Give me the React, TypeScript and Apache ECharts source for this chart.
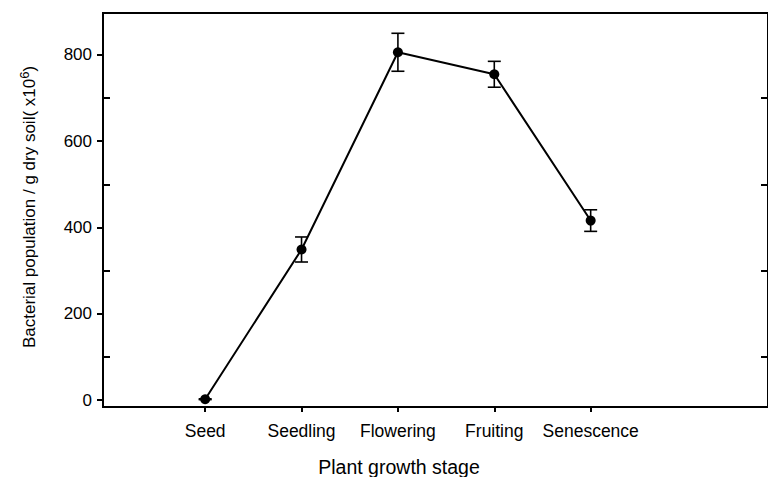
import React, { useEffect, useRef } from "react";
import * as echarts from "echarts";

const stages = ["Seed", "Seedling", "Flowering", "Fruiting", "Senescence"];
const means = [2, 349, 806, 755, 416];
const errors = [1, 29, 44, 30, 25];
const majorTicks = [0, 200, 400, 600, 800];
const minorTicks = [100, 300, 500, 700];
const stageIdx = [0, 1, 2, 3, 4];

const FONT = "Liberation Sans, Arial, sans-serif";

export default function App() {
  const ref = useRef<HTMLDivElement>(null);
  useEffect(() => {
    if (!ref.current) return;
    const chart = echarts.init(ref.current, null, { renderer: "svg" });
    const yMin = -16;
    const yMax = 897;
    const baseY = {
      type: "value",
      min: yMin,
      max: yMax,
      splitLine: { show: false },
      axisLine: { show: false, onZero: false },
    };
    chart.setOption({
      animation: false,
      backgroundColor: "#fff",
      grid: {
        left: 103,
        top: 13,
        right: -4,
        bottom: 70,
        show: true,
        borderColor: "#000",
        borderWidth: 2,
        backgroundColor: "transparent",
      },
      xAxis: {
        type: "value",
        min: -1.06,
        max: 5.84,
        splitLine: { show: false },
        axisLine: { show: false, onZero: false },
        axisTick: {
          show: true,
          length: 5,
          customValues: stageIdx,
          lineStyle: { color: "#000", width: 2 },
        },
        axisLabel: {
          customValues: stageIdx,
          formatter: (v: number) => stages[Math.round(v)] ?? "",
          color: "#000",
          fontSize: 17.5,
          fontFamily: FONT,
          margin: 15,
        },
      },
      yAxis: [
        {
          ...baseY,
          position: "left",
          axisTick: {
            show: true,
            length: 6,
            customValues: majorTicks,
            lineStyle: { color: "#000", width: 2 },
          },
          axisLabel: {
            customValues: majorTicks,
            color: "#000",
            fontSize: 17,
            fontFamily: FONT,
            margin: 11,
          },
        },
        {
          ...baseY,
          position: "left",
          axisTick: {
            show: true,
            inside: true,
            length: 7,
            customValues: minorTicks,
            lineStyle: { color: "#000", width: 2 },
          },
          axisLabel: { show: false },
        },
        {
          ...baseY,
          position: "right",
          axisTick: {
            show: true,
            inside: true,
            length: 7,
            customValues: minorTicks,
            lineStyle: { color: "#000", width: 2 },
          },
          axisLabel: { show: false },
        },
      ],
      graphic: [
        {
          type: "text",
          x: 399,
          y: 467,
          style: {
            text: "Plant growth stage",
            fontSize: 19.5,
            fontFamily: FONT,
            fill: "#000",
            align: "center",
            verticalAlign: "middle",
          },
        },
        {
          type: "text",
          x: 28,
          y: 207,
          rotation: Math.PI / 2,
          style: {
            text: "{a|Bacterial population / g dry soil( x10}{s|6}{a|)}",
            align: "center",
            verticalAlign: "middle",
            fill: "#000",
            rich: {
              a: { fontSize: 17, fontFamily: FONT, fill: "#000", verticalAlign: "bottom", lineHeight: 20 },
              s: { fontSize: 13, fontFamily: FONT, fill: "#000", verticalAlign: "top", lineHeight: 20, padding: [0, 0, 8, 0] },
            },
          },
        },
      ],
      series: [
        {
          type: "custom",
          xAxisIndex: 0,
          yAxisIndex: 0,
          z: 3,
          data: stageIdx.map((i) => [i, means[i] - errors[i], means[i] + errors[i]]),
          renderItem: (params: any, api: any) => {
            const x = api.value(0);
            const lo = api.coord([x, api.value(1)]);
            const hi = api.coord([x, api.value(2)]);
            const hw = 6.5;
            const st = { stroke: "#000", lineWidth: 1.6 };
            return {
              type: "group",
              children: [
                { type: "line", shape: { x1: lo[0], y1: lo[1], x2: hi[0], y2: hi[1] }, style: st },
                { type: "line", shape: { x1: lo[0] - hw, y1: lo[1], x2: lo[0] + hw, y2: lo[1] }, style: st },
                { type: "line", shape: { x1: hi[0] - hw, y1: hi[1], x2: hi[0] + hw, y2: hi[1] }, style: st },
              ],
            };
          },
        },
        {
          type: "line",
          xAxisIndex: 0,
          yAxisIndex: 0,
          z: 4,
          data: stageIdx.map((i) => [i, means[i]]),
          symbol: "circle",
          symbolSize: 10,
          itemStyle: { color: "#000" },
          lineStyle: { color: "#000", width: 2 },
        },
      ],
    });
    return () => chart.dispose();
  }, []);
  return <div ref={ref} style={{ width: 768, height: 477, position: "absolute", left: 0, top: 0 }} />;
}
